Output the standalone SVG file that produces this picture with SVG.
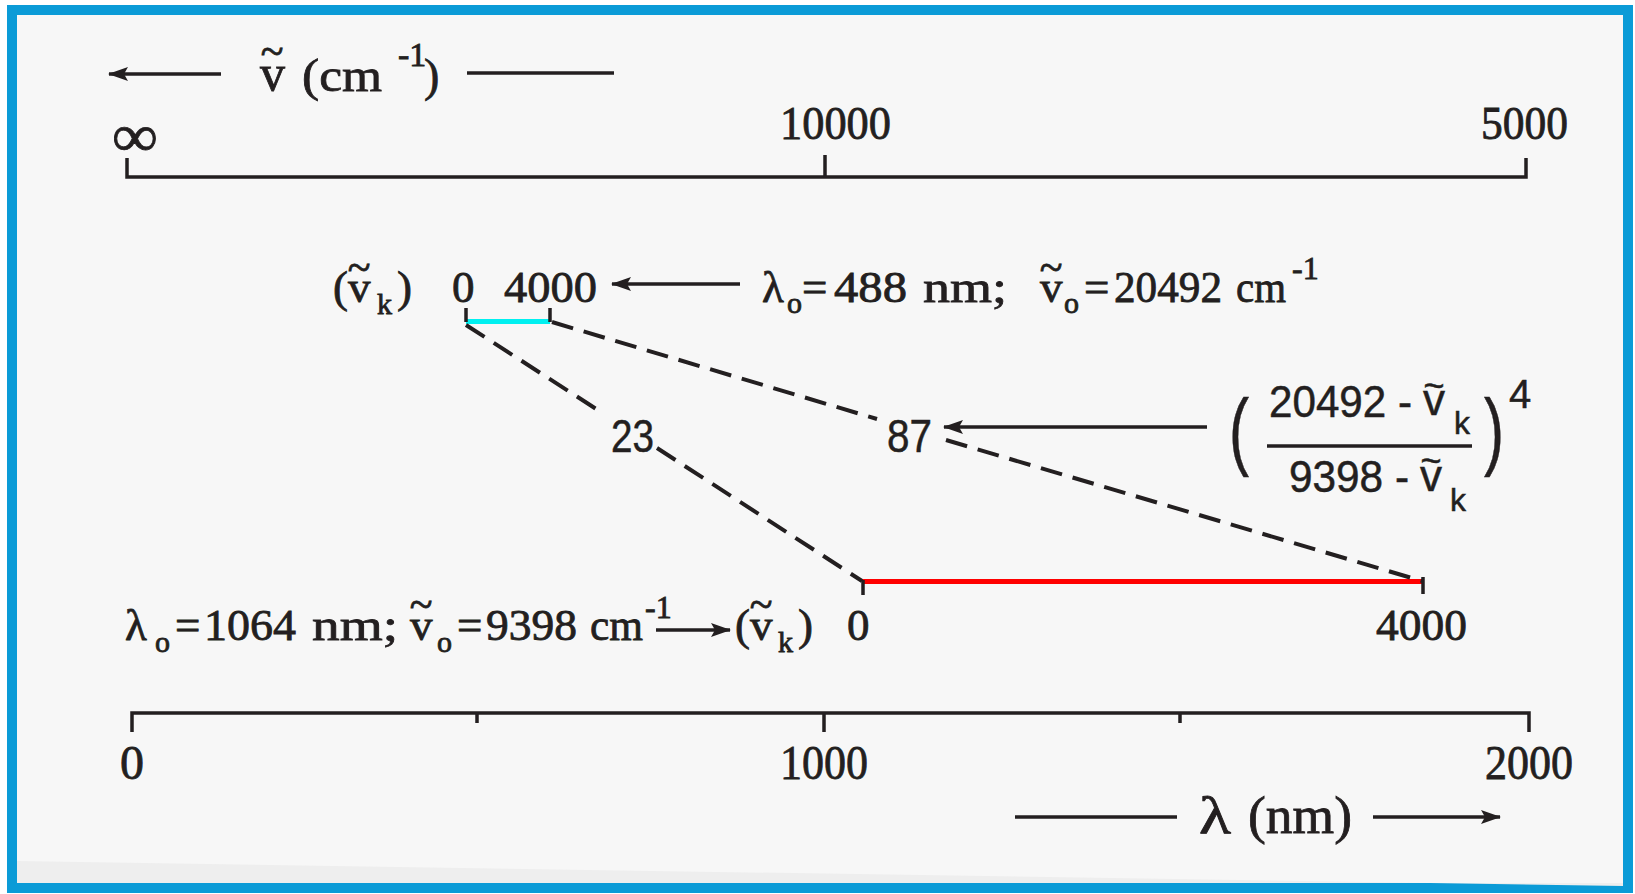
<svg xmlns="http://www.w3.org/2000/svg" width="1635" height="894" viewBox="0 0 1635 894">
<defs>
<style>
.s{font-family:'Liberation Serif','DejaVu Serif',serif;fill:#231f20;stroke:#231f20;stroke-width:0.8}
.a{font-family:'Liberation Sans','DejaVu Sans',sans-serif;fill:#231f20;stroke:#231f20;stroke-width:0.5}
.t{font-family:'Liberation Serif','DejaVu Serif',serif;fill:#231f20;stroke:#231f20;stroke-width:0.8;font-size:42px;text-anchor:middle}
.ta{font-family:'Liberation Sans','DejaVu Sans',sans-serif;fill:#231f20;stroke:#231f20;stroke-width:0.5;font-size:36px;text-anchor:middle}
.ln{stroke:#231f20;stroke-width:3.5;fill:none}
.ds{stroke:#231f20;stroke-width:4;fill:none;stroke-dasharray:22 11}
.ar{stroke:#231f20;stroke-width:3.5;fill:none;marker-end:url(#ah)}
</style>
<marker id="ah" viewBox="0 0 20 14" refX="19" refY="7" markerWidth="20" markerHeight="14" markerUnits="userSpaceOnUse" orient="auto">
<path d="M0 0 L20 7 L0 14 L4 7 z" fill="#231f20"/>
</marker>
</defs>
<rect x="0" y="0" width="1635" height="894" fill="#ffffff"/>
<rect x="12" y="10" width="1616" height="878" fill="#f7f7f7" stroke="#0b9bd7" stroke-width="10"/>
<path d="M17 861 L1623 886 L1623 883 L17 883 z" fill="#eeeeee"/>

<g id="top-axis">
<path class="ln" d="M127 158 V177 H1526 V158 M825 155 V177"/>
<text class="s" font-size="60" x="112" y="156" textLength="46" lengthAdjust="spacingAndGlyphs">∞</text>
<text class="s" font-size="46" x="780" y="139" textLength="111" lengthAdjust="spacingAndGlyphs">10000</text>
<text class="s" font-size="46" x="1481" y="139" textLength="87" lengthAdjust="spacingAndGlyphs">5000</text>
</g>

<g id="top-header">
<text class="s" font-size="50" x="260" y="90">v</text>
<text class="t" x="272" y="65" font-size="44">~</text>
<text class="s" font-size="46" x="302" y="91" textLength="80" lengthAdjust="spacingAndGlyphs">(cm</text>
<text class="s" font-size="34" x="398" y="66">-1</text>
<text class="s" font-size="46" x="424" y="91">)</text>
</g>

<g id="laser-488">
<text class="s" font-size="45" x="333" y="302">(</text>
<text class="s" font-size="45" x="348" y="302">v</text>
<text class="t" x="359" y="281">~</text>
<text class="s" font-size="30" x="377" y="314">k</text>
<text class="s" font-size="45" x="397" y="302">)</text>
<text class="s" font-size="45" x="452" y="302">0</text>
<text class="s" font-size="45" x="504" y="302" textLength="93" lengthAdjust="spacingAndGlyphs">4000</text>
<text class="s" font-size="45" x="762" y="302">λ</text>
<text class="s" font-size="30" x="787" y="313">o</text>
<text class="s" font-size="45" x="802" y="302">=</text>
<text class="s" font-size="45" x="834" y="302" textLength="73" lengthAdjust="spacingAndGlyphs">488</text>
<text class="s" font-size="45" x="923" y="302" textLength="84" lengthAdjust="spacingAndGlyphs">nm;</text>
<text class="s" font-size="45" x="1040" y="302">v</text>
<text class="t" x="1051" y="281">~</text>
<text class="s" font-size="30" x="1064" y="313">o</text>
<text class="s" font-size="45" x="1084" y="302">=</text>
<text class="s" font-size="45" x="1114" y="302" textLength="108" lengthAdjust="spacingAndGlyphs">20492</text>
<text class="s" font-size="45" x="1236" y="302" textLength="50" lengthAdjust="spacingAndGlyphs">cm</text>
<text class="s" font-size="32" x="1292" y="279">-1</text>
<rect x="466" y="319" width="84" height="5" fill="#00f0f0"/>
<path class="ln" d="M466 308 V322 M550 308 V322" stroke-width="3"/>
</g>

<g id="laser-1064">
<text class="s" font-size="45" x="125" y="640">λ</text>
<text class="s" font-size="30" x="155" y="652">o</text>
<text class="s" font-size="45" x="175" y="640">=</text>
<text class="s" font-size="45" x="204" y="640" textLength="92" lengthAdjust="spacingAndGlyphs">1064</text>
<text class="s" font-size="45" x="312" y="640" textLength="86" lengthAdjust="spacingAndGlyphs">nm;</text>
<text class="s" font-size="45" x="410" y="640">v</text>
<text class="t" x="421" y="618">~</text>
<text class="s" font-size="30" x="437" y="652">o</text>
<text class="s" font-size="45" x="457" y="640">=</text>
<text class="s" font-size="45" x="486" y="640" textLength="91" lengthAdjust="spacingAndGlyphs">9398</text>
<text class="s" font-size="45" x="590" y="640" textLength="53" lengthAdjust="spacingAndGlyphs">cm</text>
<text class="s" font-size="32" x="645" y="618">-1</text>
<text class="s" font-size="45" x="735" y="640">(</text>
<text class="s" font-size="45" x="750" y="640">v</text>
<text class="t" x="761" y="618">~</text>
<text class="s" font-size="30" x="778" y="652">k</text>
<text class="s" font-size="45" x="798" y="640">)</text>
<text class="s" font-size="45" x="847" y="640">0</text>
<text class="s" font-size="45" x="1376" y="640" textLength="91" lengthAdjust="spacingAndGlyphs">4000</text>
<rect x="862" y="579" width="561" height="5" fill="#ff0000"/>
<path class="ln" d="M863 580 V595 M1423 577 V594" stroke-width="3"/>
</g>

<g id="formula">
<text class="a" font-size="86" transform="translate(1229 459) scale(0.7 1)" stroke="none">(</text>
<text class="a" font-size="44" x="1269" y="417" textLength="143" lengthAdjust="spacingAndGlyphs">20492 -</text>
<text class="a" font-size="44" x="1423" y="415">v</text>
<text class="ta" x="1434" y="398">~</text>
<text class="a" font-size="32" x="1454" y="434">k</text>
<path class="ln" d="M1267 446 H1472" stroke-width="3.5"/>
<text class="a" font-size="44" x="1289" y="492" textLength="120" lengthAdjust="spacingAndGlyphs">9398 -</text>
<text class="a" font-size="44" x="1420" y="491">v</text>
<text class="ta" x="1431" y="473">~</text>
<text class="a" font-size="32" x="1450" y="511">k</text>
<text class="a" font-size="86" transform="translate(1484 459) scale(0.7 1)" stroke="none">)</text>
<text class="a" font-size="40" x="1509" y="408">4</text>
</g>

<g id="ratios">
<text class="a" font-size="46" x="611" y="452" textLength="43" lengthAdjust="spacingAndGlyphs">23</text>
<text class="a" font-size="46" x="887" y="452" textLength="45" lengthAdjust="spacingAndGlyphs">87</text>
</g>

<g id="bottom-axis">
<path class="ln" d="M132 732 V713 H1529 V732 M824 713 V732 M477 713 V723 M1180 713 V723"/>
<text class="s" font-size="48" x="120" y="779">0</text>
<text class="s" font-size="48" x="780" y="779" textLength="88" lengthAdjust="spacingAndGlyphs">1000</text>
<text class="s" font-size="48" x="1485" y="779" textLength="88" lengthAdjust="spacingAndGlyphs">2000</text>
<text class="s" font-size="52" x="1199" y="833" textLength="32" lengthAdjust="spacingAndGlyphs">λ</text>
<text class="s" font-size="52" x="1248" y="833" textLength="104" lengthAdjust="spacingAndGlyphs">(nm)</text>
</g>

<g id="connectors">
<path class="ar" d="M221 74 H109"/>
<path class="ln" d="M467 73 H614"/>
<path class="ar" d="M740 284 H612"/>
<path class="ar" d="M656 630 H730"/>
<path class="ar" d="M1207 427 H944"/>
<path class="ln" d="M1015 817 H1177"/>
<path class="ar" d="M1373 817 H1500"/>
<path class="ds" d="M466 325 L604 414 M657 448 L862 581"/>
<path class="ds" d="M552 322 L877 419 M946 440 L1422 581"/>
</g>
</svg>
